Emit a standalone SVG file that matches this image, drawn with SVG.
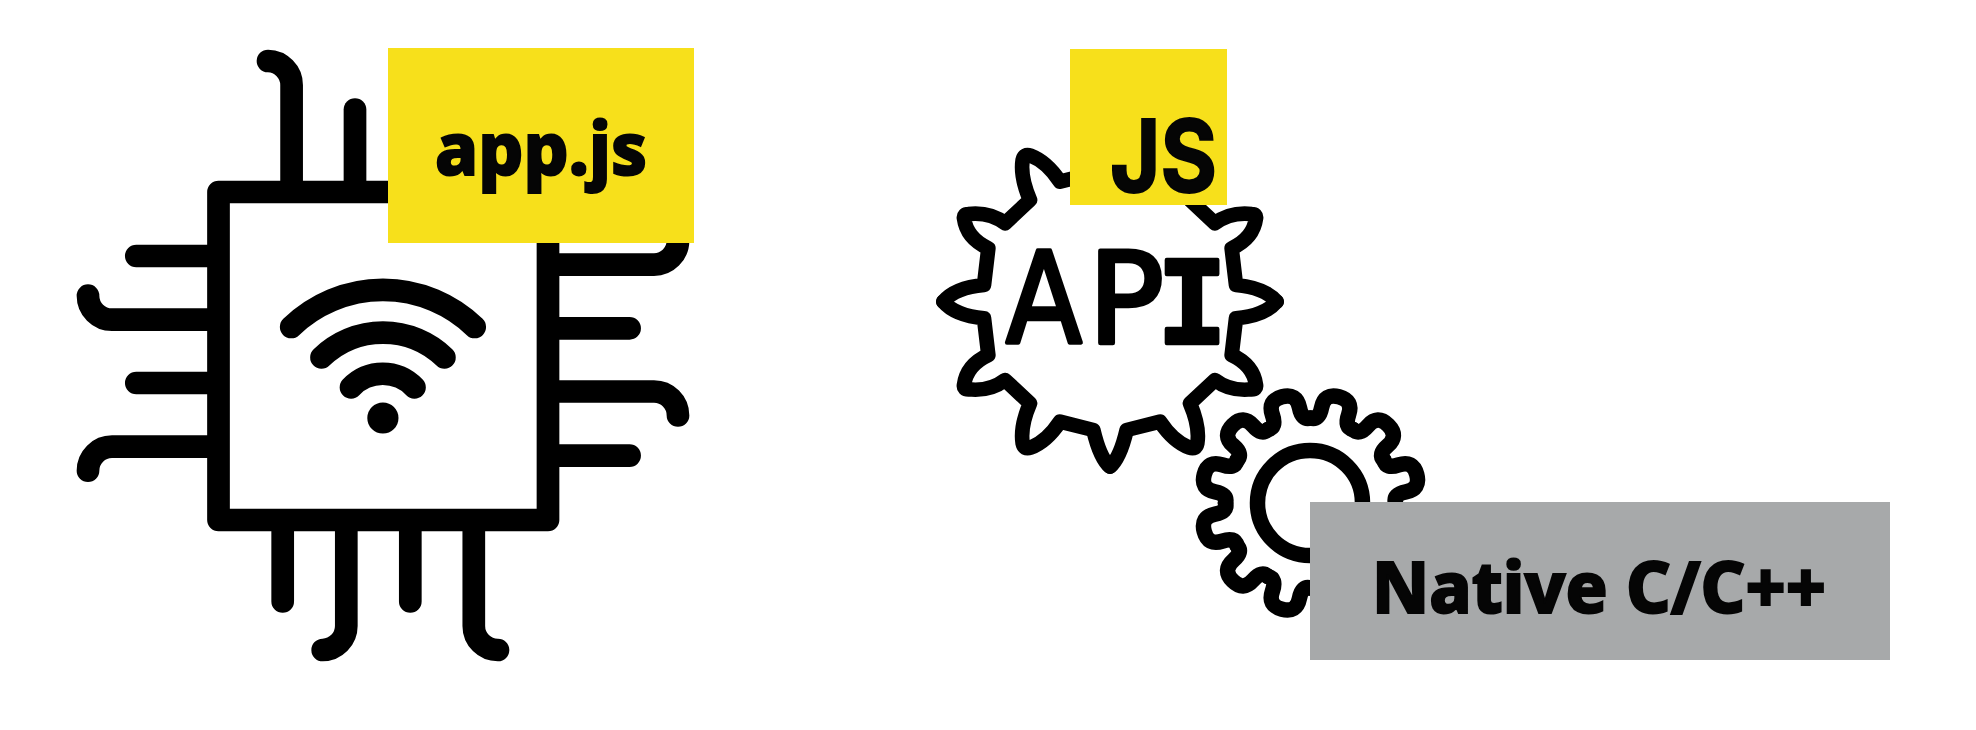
<svg xmlns="http://www.w3.org/2000/svg" xmlns:xlink="http://www.w3.org/1999/xlink" width="1976" height="730" viewBox="0 0 1976 730">
<style>
.ln{fill:none;stroke:#000;stroke-linecap:round;stroke-linejoin:round}
.lb{font-family:"Noto Sans","Liberation Sans",sans-serif;font-weight:800;fill:#050505;stroke:#050505;stroke-width:2}
.api{font-size:126px;fill:#000;stroke:#000;stroke-width:4.5px;stroke-linejoin:round;text-anchor:middle}
</style>
<defs>
<path id="tooth" d="M-22 -82.1Q-13 -82 -14 -95Q-15 -110 0 -110Q15 -110 14 -95Q13 -82 22 -82.1"/>
<path id="quad" d="M500 0Q465 42 378 50L365 160Q430 190 438 250Q440 263 425 263Q360 270 315 235L240 305Q270 375 262 425Q258 445 238 438Q190 420 150 360L50 385Q30 470 0 495"/>
</defs>
<rect width="1976" height="730" fill="#fff"/>
<g id="chip" class="ln" stroke-width="22.7">
<rect x="218.5" y="192" width="329.5" height="328"/>
<path d="M291.6 188V85A24 24 0 0 0 268 61"/>
<path d="M355 188V109.5"/>
<path d="M212 256H136.3M212 319.7H112A24 24 0 0 1 88 295.7M212 383H136.3M212 446.7H112A24 24 0 0 0 88 470.7"/>
<path d="M552 264.6H654A24 24 0 0 0 678 240.6M552 328.3H629.6M552 391.5H654A24 24 0 0 1 678 415.5M552 455.6H629.6"/>
<path d="M282.7 525V601.4M346.3 525V626A24 24 0 0 1 322.7 650M410.3 525V601.4M473.8 525V626A24 24 0 0 0 498 650"/>
<path d="M291.2 327A132 132 0 0 1 474.7 327M321.5 357.4A88.6 88.6 0 0 1 444.4 357.4M351 387.3A44 44 0 0 1 414.5 387.3"/>
<circle cx="382.9" cy="418" r="15.6" fill="#000" stroke="none"/>
</g>
<g id="api-gear">
<g class="ln" stroke-width="44" transform="translate(920 30) scale(.33333) translate(570 815)">
<use xlink:href="#quad" href="#quad"/>
<use xlink:href="#quad" href="#quad" transform="scale(-1 1)"/>
<use xlink:href="#quad" href="#quad" transform="scale(1 -1)"/>
<use xlink:href="#quad" href="#quad" transform="scale(-1 -1)"/>
</g>
<text class="api" font-family="'DejaVu Sans',sans-serif" transform="translate(1044 343) scale(.88 1)">A</text>
<text class="api" font-family="'DejaVu Sans',sans-serif" x="1126" y="343">P</text>
<text class="api" font-family="'Liberation Mono',monospace" font-weight="700" transform="translate(1192 343) scale(.9 1)">I</text>
</g>
<g id="small-gear" class="ln" stroke-width="15.5">
<circle cx="1310" cy="503" r="52.5"/>
<g transform="translate(1310.5 503)">
<use xlink:href="#tooth" href="#tooth" transform="rotate(15)"/>
<use xlink:href="#tooth" href="#tooth" transform="rotate(45)"/>
<use xlink:href="#tooth" href="#tooth" transform="rotate(75)"/>
<use xlink:href="#tooth" href="#tooth" transform="rotate(105)"/>
<use xlink:href="#tooth" href="#tooth" transform="rotate(135)"/>
<use xlink:href="#tooth" href="#tooth" transform="rotate(165)"/>
<use xlink:href="#tooth" href="#tooth" transform="rotate(195)"/>
<use xlink:href="#tooth" href="#tooth" transform="rotate(225)"/>
<use xlink:href="#tooth" href="#tooth" transform="rotate(255)"/>
<use xlink:href="#tooth" href="#tooth" transform="rotate(285)"/>
<use xlink:href="#tooth" href="#tooth" transform="rotate(315)"/>
<use xlink:href="#tooth" href="#tooth" transform="rotate(345)"/>
</g>
</g>
<g id="app-js">
<rect x="388" y="48" width="306" height="195" fill="#f7e01b"/>
<text class="lb" x="435" y="175" font-size="73" textLength="212" lengthAdjust="spacingAndGlyphs">app.js</text>
</g>
<g id="js">
<rect x="1070" y="49" width="157" height="156" fill="#f7e01b"/>
<text x="1110" y="192" font-family="Inter,'Liberation Sans',sans-serif" font-weight="700" font-size="100" fill="#050505" stroke="#050505" stroke-width="2" textLength="107" lengthAdjust="spacingAndGlyphs">JS</text>
</g>
<g id="native">
<rect x="1310" y="502" width="580" height="158" fill="#a7a9aa"/>
<text class="lb" x="1372" y="613" font-size="72" textLength="454" lengthAdjust="spacingAndGlyphs">Native C/C++</text>
</g>
</svg>
